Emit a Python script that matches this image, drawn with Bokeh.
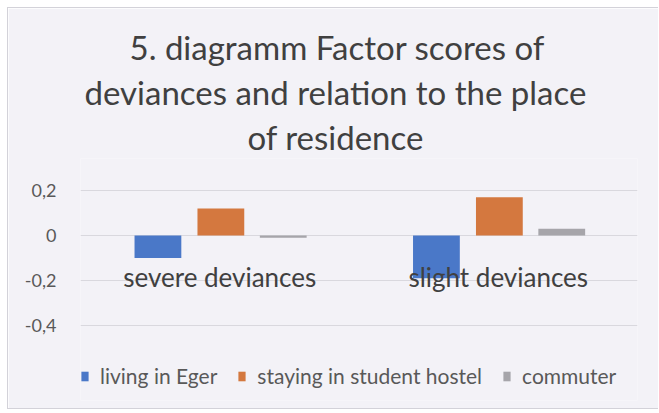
from bokeh.plotting import figure
from bokeh.models import (ColumnDataSource, FactorRange, Range1d, FixedTicker,
                          CustomJSTickFormatter, Legend, LegendItem, Title)
from bokeh.transform import dodge
from bokeh.core.properties import value
from bokeh.embed import file_html
from bokeh.resources import INLINE

# ---- data ----
categories = ["severe deviances", "slight deviances"]
series_names = ["living in Eger", "staying in student hostel", "commuter"]
living_in_eger = [-0.10, -0.19]
student_hostel = [0.12, 0.17]
commuter = [-0.01, 0.03]
y_ticks = [-0.4, -0.2, 0.0, 0.2]
title_lines = ["5. diagramm Factor scores of",
               "deviances and relation to the place",
               "of residence"]

colors = ["#4a78c8", "#d4783f", "#a6a5aa"]
bg = "#f3f2f7"
FONT = "Lato"

# layout: 45 px per 0.2 units; plot area extended above/below the ticked band
PX_PER_UNIT = 45 / 0.2
y_top = max(y_ticks) + 32 / PX_PER_UNIT
y_bottom = min(y_ticks) - 75 / PX_PER_UNIT

src = ColumnDataSource(dict(cat=categories, a=living_in_eger, b=student_hostel,
                            c=commuter, zero=[0.0, 0.0]))

p = figure(width=651, height=402, x_range=FactorRange(*categories),
           y_range=Range1d(y_bottom, y_top), output_backend="svg",
           toolbar_location=None, min_border_left=72, min_border_right=22,
           min_border_top=150, min_border_bottom=10, title=None)

p.background_fill_color = bg
p.border_fill_color = bg
p.outline_line_color = None
p.styles = {"margin-left": "7px", "margin-top": "7px",
            "border-left": "1px solid #d3d2d9", "border-top": "1px solid #d3d2d9",
            "border-bottom": "1px solid #d3d2d9"}

# title: three lines, bottom line added first (closest to the plot area)
title_offsets = [167, 4, 49]
for line, off in zip(reversed(title_lines), title_offsets):
    t = Title(text=line, align="left", text_font=FONT, text_font_size="33px",
              text_font_style="normal", text_color="#404040", offset=off,
              standoff=3)
    p.add_layout(t, "above")

cols = ["a", "b", "c"]
offsets = [-0.222, 0.004, 0.228]
renderers = []
for col, off, colr in zip(cols, offsets, colors):
    r = p.vbar(x=dodge("cat", off, range=p.x_range), top=col, bottom=0,
               width=0.168, source=src, fill_color=colr, line_color=None)
    renderers.append(r)

# category labels near zero line
p.text(x="cat", y="zero", text="cat", source=src, text_align="center",
       text_baseline="middle", y_offset=41, text_font=value(FONT),
       text_font_size="26px", text_color="#404040")

p.xaxis.visible = False
p.xgrid.grid_line_color = None
p.ygrid.grid_line_color = "#d9d8de"
p.ygrid.grid_line_width = 1

p.yaxis.ticker = FixedTicker(ticks=y_ticks)
p.yaxis.formatter = CustomJSTickFormatter(
    code="var s = tick.toFixed(1).replace('.', ','); return s.replace(/,0$/, '');")
p.yaxis.axis_line_color = None
p.yaxis.major_tick_line_color = None
p.yaxis.minor_tick_line_color = None
p.yaxis.major_label_text_font = FONT
p.yaxis.major_label_text_font_size = "18px"
p.yaxis.major_label_text_color = "#595959"
p.yaxis.major_label_standoff = 18

legend = Legend(items=[LegendItem(label=n, renderers=[r]) for n, r in zip(series_names, renderers)],
                orientation="horizontal", location=(0, 12), padding=0, margin=0,
                glyph_width=9, glyph_height=12, label_standoff=11, spacing=20,
                label_text_font=FONT, label_text_font_size="21px",
                label_text_color="#595959", background_fill_alpha=0,
                border_line_color=None)
p.add_layout(legend, "center")

open("out.html", "w").write(file_html(p, INLINE))
